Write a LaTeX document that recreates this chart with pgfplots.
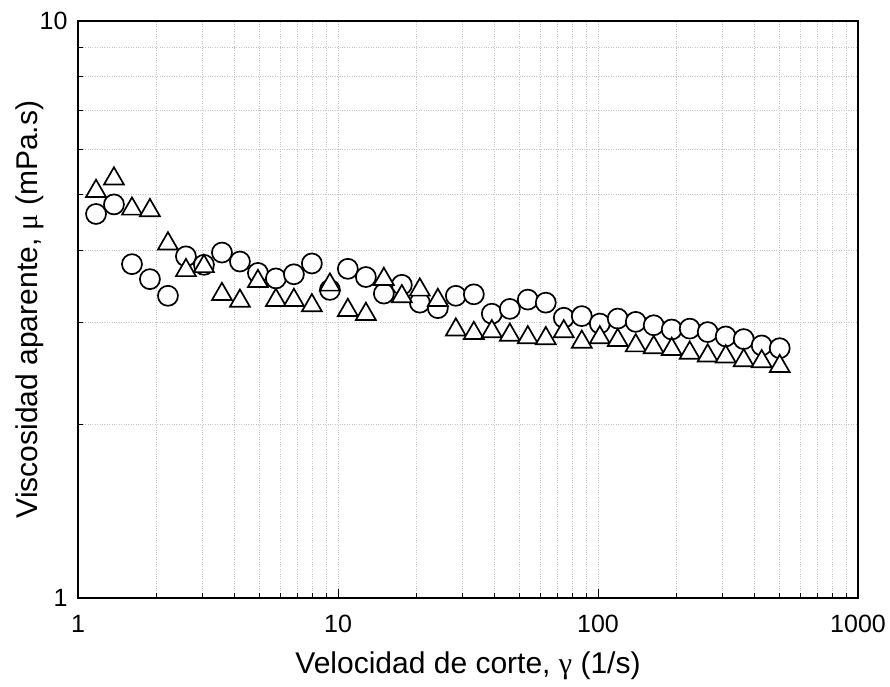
\documentclass[border=0pt]{standalone}
\usepackage{fontspec}
\setmainfont{Liberation Sans}
\newfontfamily\greek{Liberation Serif}
\usepackage{pgfplots}
\pgfplotsset{compat=1.18}
\usepackage{pgfplotstable}

% x = shear rate (1/s), c = circles, t = triangles (mPa.s)
\pgfplotstableread{
x c t
1.173 4.63 5.13
1.375 4.81 5.39
1.613 3.79 4.78
1.891 3.57 4.75
2.218 3.34 4.16
2.601 3.91 3.74
3.051 3.78 3.80
3.578 3.97 3.40
4.196 3.83 3.31
4.920 3.66 3.58
5.770 3.58 3.32
6.767 3.64 3.32
7.936 3.80 3.25
9.307 3.42 3.53
10.91 3.72 3.19
12.80 3.60 3.14
15.01 3.37 3.61
17.60 3.49 3.37
20.64 3.25 3.46
24.21 3.18 3.32
28.39 3.34 2.95
33.30 3.36 2.91
39.05 3.11 2.93
45.80 3.17 2.89
53.70 3.29 2.86
62.98 3.25 2.85
73.86 3.06 2.93
86.62 3.08 2.81
101.6 2.99 2.86
119.1 3.05 2.83
139.7 3.01 2.77
163.8 2.97 2.75
192.1 2.92 2.73
225.3 2.93 2.69
264.2 2.89 2.66
309.9 2.84 2.65
363.4 2.81 2.61
426.2 2.74 2.60
499.9 2.71 2.55
}\visc

\begin{document}
\begin{tikzpicture}
\path[use as bounding box] (-78pt,-88pt) rectangle (812pt,598pt);
\begin{axis}[
    at={(0,0)}, anchor=south west,
    scale only axis, width=780pt, height=577pt,
    xmode=log, ymode=log,
    xmin=1, xmax=1000, ymin=1, ymax=10,
    xtick={1,10,100,1000}, xticklabels={1,10,100,1000},
    ytick={1,10}, yticklabels={1,10},
    minor xtick={2,3,4,5,6,7,8,9,20,30,40,50,60,70,80,90,200,300,400,500,600,700,800,900},
    minor ytick={2,3,4,5,6,7,8,9},
    xtick pos=left, ytick pos=left, tick align=inside,
    major tick length=9pt, minor tick length=5pt,
    tick style={black, line width=1pt},
    grid=both,
    major grid style={gray!45, dotted, line width=0.9pt},
    minor grid style={gray!45, dotted, line width=0.9pt},
    axis line style={line width=1.6pt},
    tick label style={font=\fontsize{25}{29}\selectfont},
    xticklabel style={yshift=-14pt},
    yticklabel style={xshift=-7pt},
    xlabel={Velocidad de corte, {\greek γ} (1/s)},
    ylabel={Viscosidad aparente, {\greek μ} (mPa.s)},
    every axis x label/.style={at={(rel axis cs:0.5,-0.118)}, anchor=center,
      font=\fontsize{30}{34}\selectfont},
    every axis y label/.style={at={(rel axis cs:-0.062,0.5)}, rotate=90, anchor=center,
      font=\fontsize{30}{34}\selectfont},
  ]
  \addplot[only marks, mark=*, mark size=10pt,
    mark options={draw=black, fill=white, line width=1.7pt}]
    table[x=x, y=c] {\visc};
  \addplot[only marks, mark=triangle*, mark size=11.5pt,
    mark options={draw=black, fill=white, line width=1.7pt, yshift=-2.9pt}]
    table[x=x, y=t] {\visc};
\end{axis}
\end{tikzpicture}
\end{document}
